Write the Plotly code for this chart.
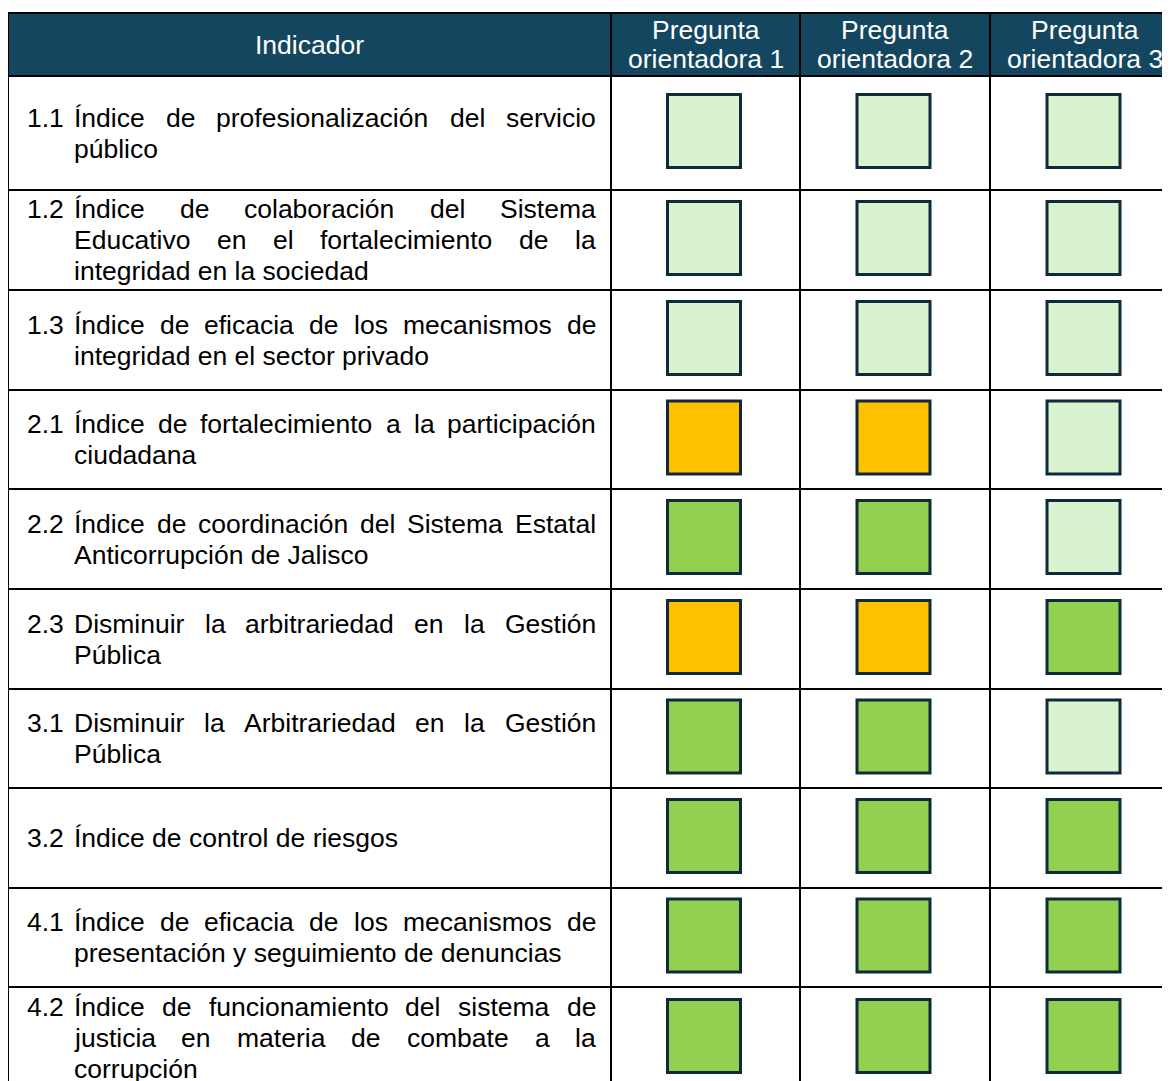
import plotly.graph_objects as go

# ---------------- data ----------------
codigos = ["1.1", "1.2", "1.3", "2.1", "2.2", "2.3", "3.1", "3.2", "4.1", "4.2"]
indicadores = [
    "Índice de profesionalización del servicio\npúblico",
    "Índice de colaboración del Sistema\nEducativo en el fortalecimiento de la\nintegridad en la sociedad",
    "Índice de eficacia de los mecanismos de\nintegridad en el sector privado",
    "Índice de fortalecimiento a la participación\nciudadana",
    "Índice de coordinación del Sistema Estatal\nAnticorrupción de Jalisco",
    "Disminuir la arbitrariedad en la Gestión\nPública",
    "Disminuir la Arbitrariedad en la Gestión\nPública",
    "Índice de control de riesgos",
    "Índice de eficacia de los mecanismos de\npresentación y seguimiento de denuncias",
    "Índice de funcionamiento del sistema de\njusticia en materia de combate a la\ncorrupción",
]
encabezado_indicador = "Indicador"
encabezados_preguntas = ["Pregunta\norientadora 1", "Pregunta\norientadora 2", "Pregunta\norientadora 3"]

pregunta_1 = ["verde claro", "verde claro", "verde claro", "ámbar", "verde", "ámbar", "verde", "verde", "verde", "verde"]
pregunta_2 = ["verde claro", "verde claro", "verde claro", "ámbar", "verde", "ámbar", "verde", "verde", "verde", "verde"]
pregunta_3 = ["verde claro", "verde claro", "verde claro", "verde claro", "verde claro", "verde", "verde claro", "verde", "verde", "verde"]

# ---------------- styles / layout ----------------
PAGE = 8  # default body margin of the html page
W, H = 1170 - PAGE, 1081 - PAGE
FONT = "Liberation Sans, Arial, sans-serif"
FS = 26.5
HEADER_BG = "#14465F"
COLORES = {"verde claro": "#D9F2D0", "verde": "#92D050", "ámbar": "#FFC000"}
BORDE_CUADRO = "#0F2A3B"

table_left = 8 - PAGE
col_widths = [603, 189, 190, 190]
table_top = 13 - PAGE
row_heights = [63, 114, 100, 100, 99, 100, 100, 99, 100, 99, 102]
num_x = 27 - PAGE
text_left = 74 - PAGE
text_right = 596 - PAGE
line_gap = 31
header_line_gap = 29
square_size = 73
square_dx = -1.5
square_dy = -2

col_edges = [table_left]
for w in col_widths:
    col_edges.append(col_edges[-1] + w)
row_edges = [table_top]
for h in row_heights:
    row_edges.append(row_edges[-1] + h)
col_centers = [(col_edges[i] + col_edges[i + 1]) / 2 for i in range(len(col_widths))]
row_centers = [(row_edges[i] + row_edges[i + 1]) / 2 for i in range(len(row_heights))]

# Arial / Liberation Sans advance widths (per 1000 em)
AW = {' ': 278, '.': 278, 'a': 556, 'b': 556, 'c': 500, 'd': 556, 'e': 556, 'f': 278, 'g': 556,
      'h': 556, 'i': 222, 'j': 222, 'k': 500, 'l': 222, 'm': 833, 'n': 556, 'o': 556, 'p': 556,
      'q': 556, 'r': 333, 's': 500, 't': 278, 'u': 556, 'v': 500, 'w': 722, 'x': 500, 'y': 500,
      'z': 500, 'á': 556, 'é': 556, 'í': 278, 'ó': 556, 'ú': 556, 'Í': 278, 'A': 667, 'B': 667,
      'C': 722, 'D': 722, 'E': 667, 'F': 611, 'G': 778, 'H': 722, 'I': 278, 'J': 500, 'K': 667,
      'L': 556, 'M': 833, 'N': 722, 'O': 778, 'P': 667, 'R': 722, 'S': 667, 'T': 611}


def tw(s):
    return sum(AW.get(ch, 556) for ch in s) * FS / 1000.0


annotations = []


def add_text(x, y, text, color="black", xanchor="left"):
    annotations.append(dict(x=x, y=y, xref="x", yref="y", text=text, showarrow=False,
                            xanchor=xanchor, yanchor="middle", borderpad=0, borderwidth=0,
                            font=dict(family=FONT, size=FS, color=color)))


# header texts
add_text((col_edges[0] + col_edges[1]) / 2, row_centers[0], encabezado_indicador, "white", "center")
for j, t in enumerate(encabezados_preguntas):
    lines = t.split("\n")
    n = len(lines)
    for k, ln in enumerate(lines):
        y = row_centers[0] + (k - (n - 1) / 2) * header_line_gap
        add_text(col_centers[j + 1], y, ln, "white", "center")

# body texts (justified)
for i, (cod, ind) in enumerate(zip(codigos, indicadores)):
    lines = ind.split("\n")
    n = len(lines)
    cy = row_centers[i + 1]
    for k, ln in enumerate(lines):
        y = cy + (k - (n - 1) / 2) * line_gap
        if k == 0:
            add_text(num_x, y, cod)
        words = ln.split(" ")
        if k < n - 1 and len(words) > 1:
            total = sum(tw(w) for w in words)
            gap = (text_right - text_left - total) / (len(words) - 1)
            x = text_left
            for w in words:
                add_text(x, y, w)
                x += tw(w) + gap
        else:
            add_text(text_left, y, ln)

# shapes: header background and grid
shapes = [dict(type="rect", xref="x", yref="y", x0=col_edges[0], x1=col_edges[-1],
               y0=row_edges[0], y1=row_edges[1], fillcolor=HEADER_BG, line=dict(width=0), layer="below")]
for ye in row_edges:
    shapes.append(dict(type="line", xref="x", yref="y", x0=col_edges[0], x1=col_edges[-1], y0=ye, y1=ye,
                       line=dict(color="black", width=2)))
for xe in col_edges:
    shapes.append(dict(type="line", xref="x", yref="y", x0=xe, x1=xe, y0=row_edges[0], y1=row_edges[-1],
                       line=dict(color="black", width=2)))

fig = go.Figure()
preguntas = [pregunta_1, pregunta_2, pregunta_3]
for estado, color in COLORES.items():
    xs, ys = [], []
    for j, col in enumerate(preguntas):
        for i, v in enumerate(col):
            if v == estado:
                xs.append(col_centers[j + 1] + square_dx)
                ys.append(row_centers[i + 1] + square_dy)
    fig.add_trace(go.Scatter(x=xs, y=ys, mode="markers", name=estado, hoverinfo="skip",
                             cliponaxis=False,
                             marker=dict(symbol="square", size=square_size, color=color,
                                         line=dict(color=BORDE_CUADRO, width=3))))

fig.update_layout(
    width=W, height=H, margin=dict(l=0, r=0, t=0, b=0),
    paper_bgcolor="white", plot_bgcolor="white", showlegend=False,
    xaxis=dict(range=[0, W], visible=False, fixedrange=True),
    yaxis=dict(range=[H, 0], visible=False, fixedrange=True),
    shapes=shapes, annotations=annotations,
)
fig.write_html("out.html")
